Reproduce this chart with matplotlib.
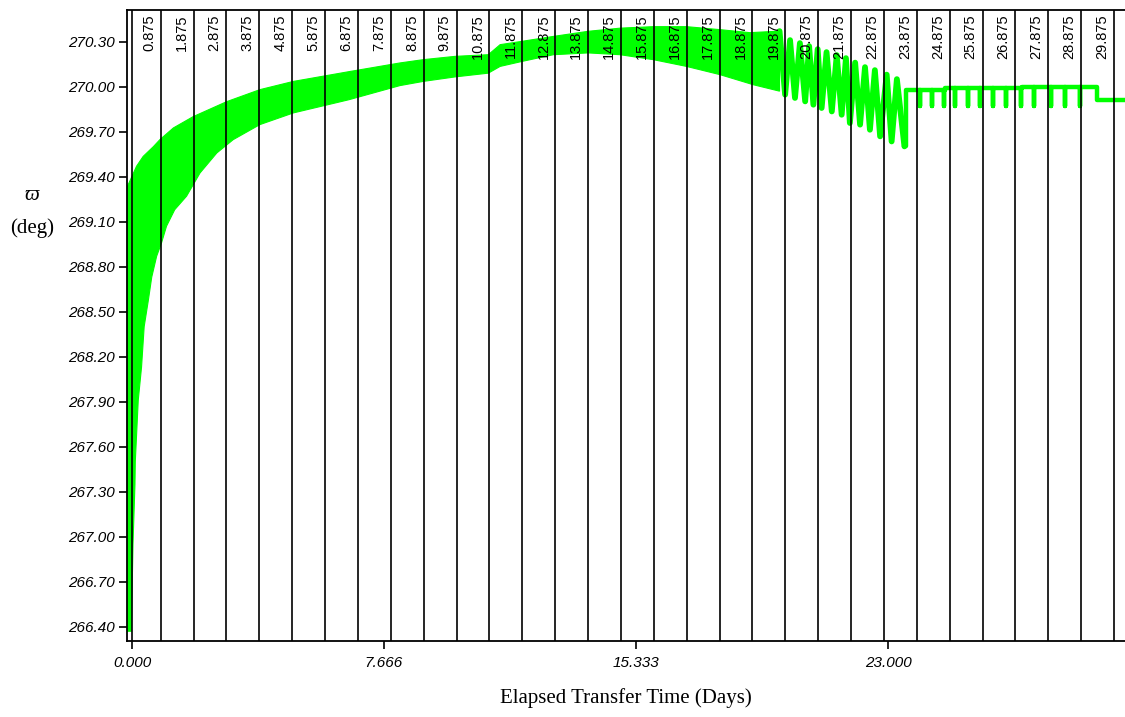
import numpy as np
import matplotlib.pyplot as plt

# Banda densa (envolventes superior e inferior de la oscilación rápida)
up_t = [-0.15, -0.15, 0.14, 0.34, 0.65, 0.85, 1.26, 1.86, 2.88, 3.89, 4.91, 6.60,
        8.15, 8.86, 9.83, 10.84, 11.20, 11.86, 12.82, 13.88, 14.85, 15.86, 16.87,
        17.89, 18.80, 19.70]
up_v = [266.37, 269.33, 269.47, 269.535, 269.60, 269.647, 269.725, 269.80, 269.90,
        269.98, 270.035, 270.10, 270.158, 270.18, 270.202, 270.213, 270.28, 270.302,
        270.335, 270.369, 270.39, 270.40, 270.40, 270.38, 270.36, 270.37]
low_t = [-0.15, -0.02, 0.03, 0.09, 0.10, 0.19, 0.29, 0.37, 0.50, 0.60, 0.75, 0.90, 1.05,
         1.30, 1.66, 2.07, 2.58, 3.08, 3.89, 4.91, 6.60, 8.15, 8.86, 9.83, 10.84,
         11.20, 11.86, 12.82, 13.88, 14.85, 15.86, 16.87, 17.89, 18.90, 19.70]
low_v = [266.37, 266.37, 266.95, 267.35, 267.50, 267.91, 268.13, 268.40, 268.58, 268.73,
         268.87, 268.96, 269.07, 269.18, 269.27, 269.425, 269.558, 269.647, 269.747,
         269.825, 269.913, 270.007, 270.035, 270.065, 270.09, 270.135, 270.168,
         270.213, 270.225, 270.213, 270.18, 270.135, 270.08, 270.013, 269.97]

# Oscilaciones visibles (picos y valles)
peak_t = [20.02, 20.32, 20.60, 20.86, 21.13, 21.44, 21.72, 22.00, 22.30, 22.60, 22.96, 23.27]
peak_v = [270.31, 270.29, 270.27, 270.25, 270.23, 270.21, 270.19, 270.16, 270.13,
          270.11, 270.08, 270.05]
trough_t = [19.87, 20.17, 20.48, 20.73, 20.98, 21.29, 21.59, 21.84, 22.15, 22.45,
            22.76, 23.11, 23.50]
trough_v = [269.947, 269.925, 269.902, 269.88, 269.858, 269.835, 269.813, 269.758,
            269.747, 269.713, 269.669, 269.635, 269.602]

# Tramo final en escalones con muescas
step_t = [23.55, 24.72, 27.07, 29.36]
step_v = [269.975, 269.988, 269.998, 269.908]
end_t = 30.30
notch_t = [23.97, 24.34, 24.70, 25.04, 25.42, 25.80, 26.20, 26.60, 27.05, 27.44,
           27.96, 28.38, 28.84]
notch_v = 269.87

# Marcas verticales
marker_t = [0.875, 1.875, 2.875, 3.875, 4.875, 5.875, 6.875, 7.875, 8.875, 9.875,
            10.875, 11.875, 12.875, 13.875, 14.875, 15.875, 16.875, 17.875, 18.875,
            19.875, 20.875, 21.875, 22.875, 23.875, 24.875, 25.875, 26.875, 27.875,
            28.875, 29.875]

yticks = [266.40, 266.70, 267.00, 267.30, 267.60, 267.90, 268.20, 268.50, 268.80,
          269.10, 269.40, 269.70, 270.00, 270.30]
xticks = [0.0, 7.666, 15.333, 23.0]
xtick_labels = ['0.000', '7.666', '15.333', '23.000']

green = '#00ff00'
sans = ['Liberation Sans', 'DejaVu Sans']
serif = ['Liberation Serif', 'DejaVu Serif']

fig = plt.figure(figsize=(11.25, 7.17), dpi=100)
ax = fig.add_axes([127 / 1125, 1 - 641 / 717, 1 - 127 / 1125, 631 / 717])

# banda
ax.fill(list(up_t) + list(low_t[::-1]), list(up_v) + list(low_v[::-1]),
        facecolor=green, edgecolor=green, lw=0.8, zorder=2)

# oscilaciones: zigzag valle-pico
ox = [up_t[-1]]
oy = [up_v[-1]]
for i in range(len(trough_t)):
    ox.append(trough_t[i]); oy.append(trough_v[i])
    if i < len(peak_t):
        ox.append(peak_t[i]); oy.append(peak_v[i])
ax.plot(ox, oy, color=green, lw=4.2, solid_joinstyle='round', solid_capstyle='round',
        zorder=3)

# escalones con muescas
xs = [trough_t[-1]]
ys = [trough_v[-1]]
events = sorted([(t, 's', v) for t, v in zip(step_t, step_v)] +
                [(t, 'n', notch_v) for t in notch_t])
level = trough_v[-1]
for t, kind, v in events:
    if kind == 's':
        xs += [t, t]; ys += [level, v]
        level = v
    else:
        xs += [t, t, t]; ys += [level, v, level]
xs.append(end_t); ys.append(level)
ax.plot(xs, ys, color=green, lw=3.2, solid_joinstyle='round', solid_capstyle='round',
        zorder=3)

# líneas verticales y sus etiquetas
ax.axvline(0.0, color='black', lw=1.2, zorder=4)
for t in marker_t:
    ax.axvline(t, color='black', lw=1.2, zorder=4)
    ax.annotate(f'{t:.3f}', xy=(t, 1), xycoords=('data', 'axes fraction'),
                xytext=(-8.5, -3), textcoords='offset points', rotation=90,
                ha='center', va='top', fontsize=10.5, family=sans, zorder=5)

ax.set_xlim(-0.152, 30.21)
ax.set_ylim(266.305, 270.511)
ax.set_yticks(yticks)
ax.set_yticklabels([f'{v:.2f}' for v in yticks], fontsize=11, family=sans,
                   style='italic')
ax.set_xticks(xticks)
ax.set_xticklabels(xtick_labels, fontsize=11, family=sans, style='italic')
ax.tick_params(axis='y', direction='out', length=6, width=1.2, pad=3)
ax.tick_params(axis='x', direction='out', length=6, width=1.2, pad=5)
ax.spines['right'].set_visible(False)
for s in ['left', 'bottom', 'top']:
    ax.spines[s].set_linewidth(1.3)

ax.set_xlabel('Elapsed Transfer Time (Days)', fontsize=15, family=serif, labelpad=13)
fig.text(32 / 1125, 1 - 195 / 717, '\u03d6', fontsize=15, family=serif,
         style='italic', ha='center', va='center')
fig.text(32 / 1125, 1 - 228 / 717, '(deg)', fontsize=15, family=serif,
         ha='center', va='center')

fig.savefig('out.png', dpi=100)
